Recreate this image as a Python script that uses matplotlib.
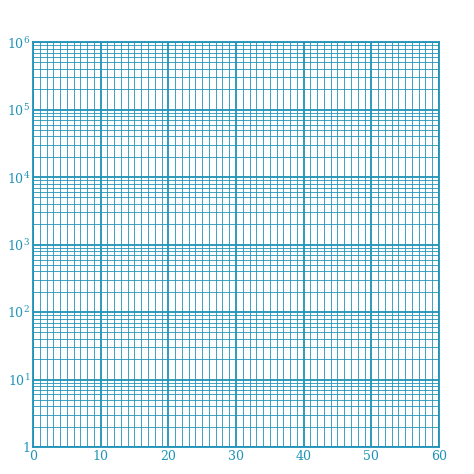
import matplotlib
matplotlib.use("Agg")
import matplotlib.pyplot as plt
from matplotlib.ticker import FixedLocator, LogLocator, NullFormatter

x_major = [0, 10, 20, 30, 40, 50, 60]
y_major = [1, 1e1, 1e2, 1e3, 1e4, 1e5, 1e6]
y_labels = ["1", "$10^1$", "$10^2$", "$10^3$", "$10^4$", "$10^5$", "$10^6$"]
C = "#1f93b8"

plt.rcParams['font.family'] = ['DejaVu Serif']
plt.rcParams['mathtext.fontset'] = 'dejavuserif'
fig = plt.figure(figsize=(4.74, 4.74), dpi=100)
ax = fig.add_axes([0.0696, 0.057, 0.8565, 0.854])
ax.set_yscale('log')
ax.set_xlim(0, 60)
ax.set_ylim(1, 1e6)
ax.xaxis.set_major_locator(FixedLocator(x_major))
ax.xaxis.set_minor_locator(FixedLocator([v for v in range(0, 61) if v % 10]))
ax.set_xticklabels([str(v) for v in x_major])
ax.yaxis.set_major_locator(FixedLocator(y_major))
ax.set_yticklabels(y_labels)
ax.yaxis.set_minor_locator(LogLocator(base=10, subs=range(2, 10), numticks=100))
ax.yaxis.set_minor_formatter(NullFormatter())
ax.grid(which='major', color=C, lw=1.3)
ax.grid(which='minor', color=C, lw=0.6)
ax.tick_params(which='both', length=0, colors=C, labelsize=9, pad=2)
for s in ax.spines.values():
    s.set_color(C); s.set_linewidth(1.3)
fig.savefig("out.png", dpi=100)
